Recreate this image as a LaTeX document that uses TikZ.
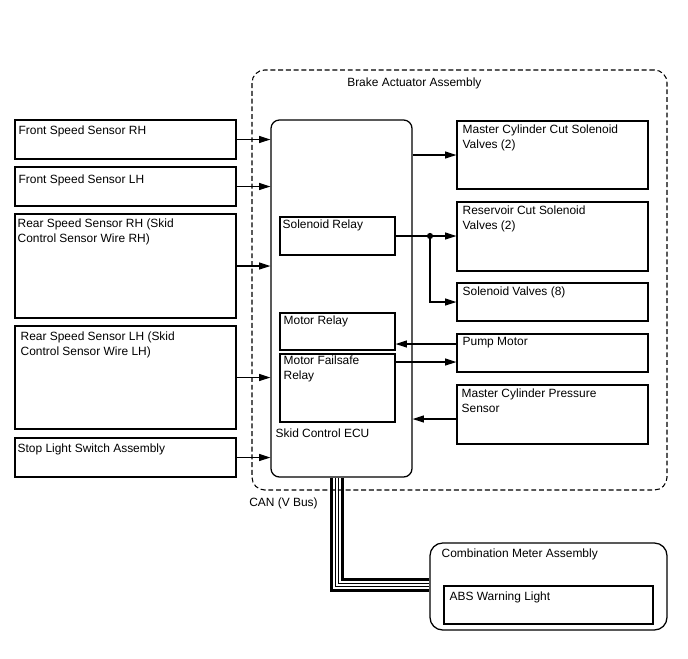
\documentclass[tikz,border=0pt]{standalone}
\usepackage{fontspec}
\setmainfont{Liberation Sans}
\usepackage{xcolor}
\usetikzlibrary{arrows.meta,calc,fit}
\definecolor{BAInk}{HTML}{000000}
\definecolor{BAPaper}{HTML}{FFFFFF}
\newcommand{\bafont}{\fontsize{8.5}{10.7}\selectfont}
\tikzset{
  box/.style={draw=BAInk,line width=.9pt,inner sep=0pt},
  lbl/.style={anchor=north west,inner sep=0pt,align=left,font=\bafont},
  sig/.style={draw=BAInk,line width=.8pt,-{Triangle[length=8pt,width=5pt]}},
  canthick/.style={draw=BAInk,line width=2.1pt},
  canthin/.style={draw=BAInk,line width=.7pt}
}

\begin{document}
\begin{tikzpicture}[x=0.025cm,y=-0.025cm]
\path[use as bounding box] (0,0) rectangle (688,658);
\fill[BAPaper] (0,0) rectangle (688,658);
\node[draw=BAInk,line width=.75pt,dash pattern=on 3.5pt off 2pt,rounded corners=9pt,inner sep=0pt,fit={(252,70) (667,490)}] (assy) {};
\node[lbl,anchor=west] (assy-t) at (347,83) {Brake Actuator Assembly};
\node[box,fit={(15,120) (236,159)}] (fsrh) {};
\node[lbl] (fsrh-t) at ($(fsrh.north west)+(4,6)$) {Front Speed Sensor RH};
\node[box,fit={(15,167) (236,206)}] (fslh) {};
\node[lbl] (fslh-t) at ($(fslh.north west)+(4,8)$) {Front Speed Sensor LH};
\node[box,fit={(15,214) (236,318)}] (rsrh) {};
\node[lbl] (rsrh-t) at ($(rsrh.north west)+(3,5)$) {Rear Speed Sensor RH (Skid\\Control Sensor Wire RH)};
\node[box,fit={(15,326) (236,429)}] (rslh) {};
\node[lbl] (rslh-t) at ($(rslh.north west)+(6,6)$) {Rear Speed Sensor LH (Skid\\Control Sensor Wire LH)};
\node[box,fit={(15,438) (236,477)}] (stop) {};
\node[lbl] (stop-t) at ($(stop.north west)+(3,6)$) {Stop Light Switch Assembly};
\node[box,rounded corners=6pt,fit={(271,120) (412,477)}] (ecu) {};
\node[box,fit={(280,217) (395,255)}] (solrly) {};
\node[lbl] (solrly-t) at ($(solrly.north west)+(3,3)$) {Solenoid Relay};
\node[box,fit={(280,313) (395,350)}] (motrly) {};
\node[lbl] (motrly-t) at ($(motrly.north west)+(4,3.5)$) {Motor Relay};
\node[box,fit={(280,354) (395,422)}] (mfsrly) {};
\node[lbl] (mfsrly-t) at ($(mfsrly.north west)+(4,2.5)$) {Motor Failsafe\\Relay};
\node[lbl,anchor=west] (ecu-t) at ($(mfsrly.south west)+(-4,11)$) {Skid Control ECU};
\node[box,fit={(457,121) (648,189)}] (mccut) {};
\node[lbl] (mccut-t) at ($(mccut.north west)+(6,4.5)$) {Master Cylinder Cut Solenoid\\Valves (2)};
\node[box,fit={(457,202) (648,271)}] (rescut) {};
\node[lbl] (rescut-t) at ($(rescut.north west)+(6,4.5)$) {Reservoir Cut Solenoid\\Valves (2)};
\node[box,fit={(457,283) (648,321)}] (solv) {};
\node[lbl] (solv-t) at ($(solv.north west)+(6,4.5)$) {Solenoid Valves (8)};
\node[box,fit={(457,334) (648,372)}] (pump) {};
\node[lbl] (pump-t) at ($(pump.north west)+(6,3.5)$) {Pump Motor};
\node[box,fit={(457,385) (648,444)}] (mcps) {};
\node[lbl] (mcps-t) at ($(mcps.north west)+(5,4.5)$) {Master Cylinder Pressure\\Sensor};
\node[box,rounded corners=9pt,fit={(430,543) (667,630)}] (cmb) {};
\node[lbl,anchor=west] (cmb-t) at ($(cmb.north west)+(12,12.5)$) {Combination Meter Assembly};
\node[box,fit={(444,586) (653,624)}] (abs) {};
\node[lbl,anchor=west] (abs-t) at ($(abs.north west)+(6,12)$) {ABS Warning Light};
\node[lbl,anchor=west] (can-t) at (249,503.5) {CAN (V Bus)};
\draw[sig] (fsrh.east) -- (fsrh.east -| ecu.west);
\draw[sig] (fslh.east) -- (fslh.east -| ecu.west);
\draw[sig] (rsrh.east) -- (rsrh.east -| ecu.west);
\draw[sig] (rslh.east) -- (rslh.east -| ecu.west);
\draw[sig] (stop.east) -- (stop.east -| ecu.west);
\draw[sig] (ecu.east |- mccut.west) -- (mccut.west);
\draw[sig] (solrly.east) -- (rescut.west |- solrly.east);
\coordinate (jn) at (430,236);
\draw[sig] (jn) |- (solv.west);
\fill[BAInk] (jn) circle (2.2pt);
\coordinate (pmpin) at ($(pump.west)+(0,-9)$);
\coordinate (pmpout) at ($(pump.west)+(0,9)$);
\coordinate (psout) at ($(mcps.west)+(0,4.5)$);
\draw[sig] (pmpin) -- (pmpin -| motrly.east);
\draw[sig] (pmpout -| mfsrly.east) -- (pmpout);
\draw[sig] (psout) -- (psout -| ecu.east);
\coordinate (canA) at (331.5,590.5);
\coordinate (canB) at (335.5,586.5);
\coordinate (canC) at (338.5,583.5);
\coordinate (canD) at (342.5,579.5);
\draw[canthick] (ecu.south -| canA) |- (canA -| cmb.west);
\draw[canthin] (ecu.south -| canB) |- (canB -| cmb.west);
\draw[canthin] (ecu.south -| canC) |- (canC -| cmb.west);
\draw[canthick] (ecu.south -| canD) |- (canD -| cmb.west);
\end{tikzpicture}
\end{document}
